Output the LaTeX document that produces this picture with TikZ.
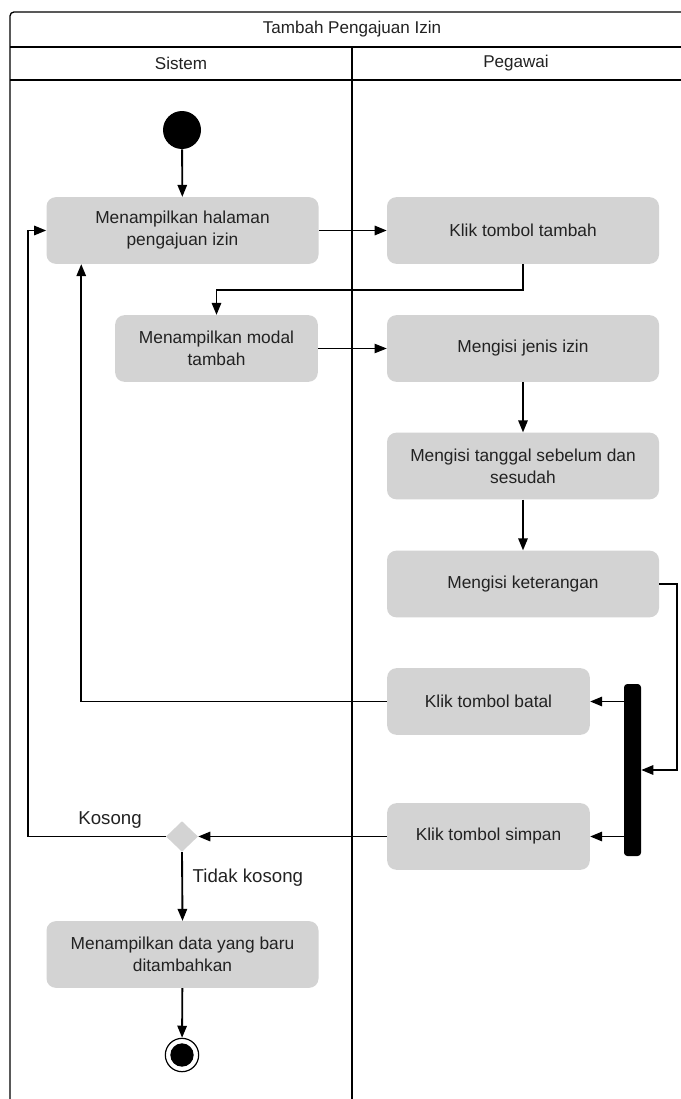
\documentclass[tikz,border=0pt]{standalone}
\usepackage{fontspec}
\setmainfont{Liberation Sans}
\usepackage{tikz}
\usetikzlibrary{arrows.meta,positioning,calc,shapes.geometric}
\definecolor{boxgray}{RGB}{211,211,211}
\definecolor{textdark}{RGB}{34,34,34}

\begin{document}
\begin{tikzpicture}[x=0.75pt,y=-0.75pt,
    act/.style={fill=boxgray,text=textdark,rounded corners=7pt,minimum width=204pt,minimum height=50pt,inner sep=2pt,align=center,font=\fontsize{13}{16.5}\selectfont},
    actshort/.style={act,minimum width=152pt},
    flow/.style={line width=1.4pt,-{Triangle[length=9pt,width=7pt]}},
    thinflow/.style={line width=0.7pt,-{Triangle[length=9pt,width=7pt]}},
    frame/.style={line width=1pt},
    lane/.style={font=\fontsize{12.8}{15}\selectfont,text=textdark},
    guard/.style={font=\fontsize{14}{16}\selectfont,text=textdark}]
    \useasboundingbox (0,0) rectangle (681,1099);
    % swimlane frame
    \draw[frame,rounded corners=3pt] (10,1099) -- (10,12) -- (681,12);
    \draw[frame] (10,47) -- (681,47);
    \draw[frame] (10,80) -- (681,80);
    \draw[frame] (352,47) -- (352,1099);
    \node[lane] (title) at (352,29.5) {Tambah Pengajuan Izin};
    \node[lane] (sistem) at (181,63.5) {Sistem};
    \node[lane] (pegawai) at (516,63.5) {Pegawai};

    % activities
    \node[circle,fill=black,minimum size=28.5pt,inner sep=0] (start) at (182,130) {};
    \node[act] (halaman) at (182.5,230.5) {Menampilkan halaman\\pengajuan izin};
    \node[act] (tambah) at (523,230.5) {Klik tombol tambah};
    \node[actshort] (modal) at (216.5,348.5) {Menampilkan modal\\tambah};
    \node[act] (jenis) at (523,348.5) {Mengisi jenis izin};
    \node[act] (tanggal) at (523,466) {Mengisi tanggal sebelum dan\\sesudah};
    \node[act] (keterangan) at (523,584) {Mengisi keterangan};
    \node[actshort] (batal) at (488.5,701.5) {Klik tombol batal};
    \node[actshort] (simpan) at (488.5,836.5) {Klik tombol simpan};
    \node[fill=black,rounded corners=2.5pt,minimum width=12.75pt,minimum height=129pt,inner sep=0] (fork) at (632.5,770) {};
    \node[diamond,fill=boxgray,minimum width=24pt,minimum height=23pt,inner sep=0] (cek) at (182,836.5) {};
    \node[act] (hasil) at (182.5,954.5) {Menampilkan data yang baru\\ditambahkan};
    \node[circle,draw=black,line width=0.9pt,fill=white,minimum size=25pt,inner sep=0] (stop) at (182,1055) {};
    \node[circle,fill=black,minimum size=17.5pt,inner sep=0] at (stop) {};

    % flows
    \draw[flow] (start) -- (halaman);
    \draw[flow] (halaman) -- (tambah);
    \draw[flow] (tambah.south) -- ++(0,26) -| (modal.north);
    \draw[thinflow] (modal) -- (jenis);
    \draw[flow] (jenis) -- (tanggal);
    \draw[flow] (tanggal) -- (keterangan);
    \draw[flow] (keterangan.east) -- ++(18,0) |- (fork.east);
    \draw[flow] (fork.west |- batal.east) -- (batal.east);
    \draw[flow] (fork.west |- simpan.east) -- (simpan.east);
    \draw[flow] (batal.west) -| ($(halaman.south west)+(35,0)$);
    \draw[flow] (simpan.west) -- (cek.east);
    \draw[flow] (cek.west) -- ++(-138,0) |- (halaman.west);
    \draw[flow] (cek.south) -- (hasil.north);
    \draw[flow] (hasil) -- (stop);
    \node[guard] (kosong) at (110,820) {Kosong};
    \node[guard,anchor=west] (tidak) at (188,878) {Tidak kosong};
\end{tikzpicture}
\end{document}
